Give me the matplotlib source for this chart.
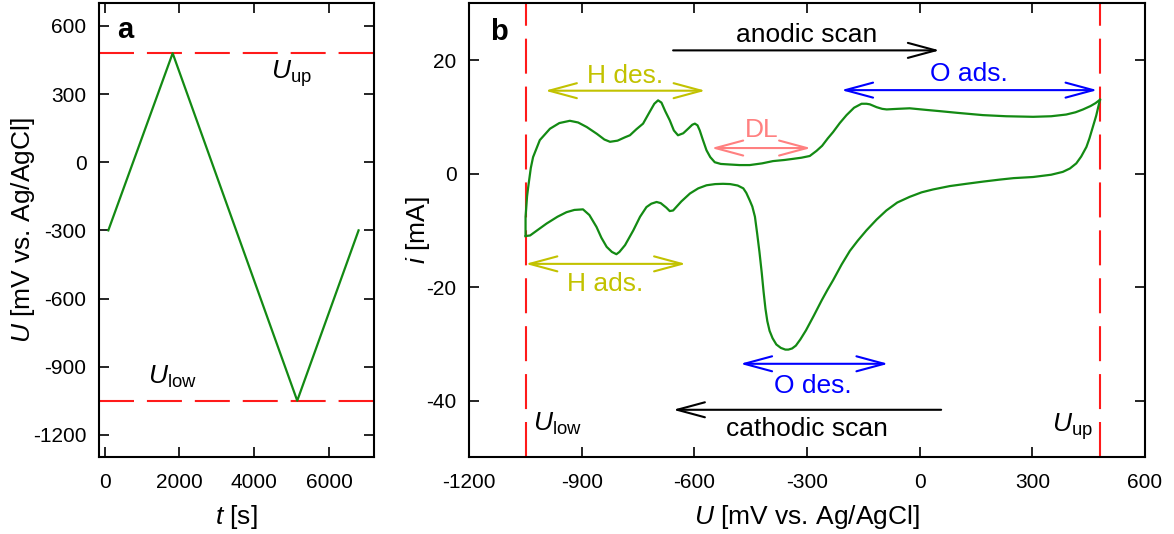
import matplotlib
matplotlib.use("Agg")
import matplotlib.pyplot as plt

plt.rcParams['font.family'] = ['Liberation Sans', 'DejaVu Sans']
plt.rcParams['mathtext.fontset'] = 'custom'
plt.rcParams['mathtext.rm'] = 'Liberation Sans'
plt.rcParams['mathtext.it'] = 'Liberation Sans:italic'
plt.rcParams['mathtext.bf'] = 'Liberation Sans:bold'
plt.rcParams['axes.unicode_minus'] = False

# potential program (panel a)
t_prog = [100, 1820, 5150, 6790]
u_prog = [-300, 480, -1050, -300]
U_UP = 480
U_LOW = -1050

# cyclic voltammogram (panel b), anodic sweep then cathodic sweep
u_anodic = [-1050, -1050, -1046, -1043, -1036, -1030, -1012, -985, -960, -932,
            -910, -887, -860, -840, -825, -805, -785, -772, -755, -737,
            -720, -707, -697, -688, -678, -666, -655, -644, -630, -617,
            -606, -599, -592, -586, -578, -568, -558, -546, -530, -506,
            -480, -453, -420, -391, -360, -337, -315, -293, -275, -260,
            -245, -231, -213, -195, -175, -155, -142, -133, -115, -100,
            -88, -60, -27, 20, 53, 100, 168, 230, 302, 350,
            390, 415, 435, 455, 468, 480]
i_anodic = [-11.0, -7.6, -4.0, -2.4, 1.0, 2.9, 5.9, 7.9, 8.9, 9.3,
            9.0, 8.2, 7.0, 6.0, 5.6, 5.8, 6.4, 6.75, 7.8, 8.8,
            10.8, 12.3, 12.9, 12.5, 11.0, 9.4, 7.6, 6.75, 7.1, 7.9,
            8.6, 8.8, 8.5, 7.6, 6.0, 4.1, 2.9, 2.0, 1.7, 1.6,
            1.5, 1.5, 1.8, 2.2, 2.4, 2.6, 2.8, 3.1, 4.0, 4.9,
            6.2, 7.3, 8.9, 10.3, 11.6, 12.3, 12.3, 12.2, 11.7, 11.4,
            11.3, 11.4, 11.5, 11.2, 11.0, 10.7, 10.3, 10.1, 10.0, 10.1,
            10.4, 10.8, 11.3, 11.9, 12.4, 13.0]

u_cathodic = [480, 470, 461, 452, 444, 430, 417, 400, 381, 350,
              302, 250, 213, 170, 124, 80, 35, 5, -27, -60,
              -89, -115, -142, -165, -186, -208, -231, -246, -261, -282,
              -303, -318, -330, -340, -350, -358, -370, -382, -392, -400,
              -406, -411, -416, -421, -427, -433, -439, -446, -453, -462,
              -470, -485, -505, -524, -545, -568, -590, -612, -635, -657,
              -666, -675, -690, -701, -715, -728, -745, -763, -785, -800,
              -808, -820, -834, -848, -861, -880, -897, -920, -941, -965,
              -994, -1015, -1038, -1050]
i_cathodic = [13.0, 10.2, 8.2, 6.2, 4.7, 3.0, 1.8, 0.9, 0.3, -0.2,
              -0.6, -0.8, -1.06, -1.4, -1.8, -2.2, -2.8, -3.3, -4.1, -5.1,
              -6.5, -8.1, -10.0, -11.8, -13.6, -16.0, -18.8, -20.5, -22.3, -25.0,
              -27.6, -29.2, -30.3, -30.8, -31.0, -31.0, -30.7, -30.1, -29.0, -27.7,
              -26.0, -23.8, -20.8, -17.4, -13.8, -10.6, -7.6, -5.8, -4.7, -3.4,
              -2.6, -2.1, -1.85, -1.8, -1.85, -2.06, -2.6, -3.5, -4.9, -6.5,
              -6.6, -6.0, -5.2, -5.0, -5.3, -5.9, -7.6, -10.0, -12.6, -13.8,
              -14.2, -13.8, -12.9, -11.3, -9.4, -7.3, -6.3, -6.4, -6.8, -7.6,
              -8.8, -9.8, -10.9, -11.0]

GREEN = '#138a13'
RED = '#ff1a1a'
YELLOW = '#c2c200'
PINK = '#ff8080'
BLUE = '#0000ff'
DASH = (0, (16.8, 6.2))

fig = plt.figure(figsize=(11.74, 5.34), dpi=100)
ax_a = fig.add_axes([0.0843, 0.1433, 0.2342, 0.8506])
ax_b = fig.add_axes([0.3997, 0.1433, 0.5756, 0.8506])

for ax in (ax_a, ax_b):
    for s in ax.spines.values():
        s.set_linewidth(1.5)
    ax.tick_params(direction='in', top=True, right=True, length=7.5,
                   width=1.2, labelsize=15, pad=9)
    ax.tick_params(axis='x', pad=11)

# ---- panel a ----
ax_a.axhline(U_UP, color=RED, lw=1.5, ls=DASH)
ax_a.axhline(U_LOW, color=RED, lw=1.5, ls=DASH)
ax_a.plot(t_prog, u_prog, color=GREEN, lw=1.6)
ax_a.set_xlim(-150, 7200)
ax_a.set_ylim(-1300, 700)
ax_a.set_xticks([0, 2000, 4000, 6000])
ax_a.set_yticks([600, 300, 0, -300, -600, -900, -1200])
ax_a.set_xlabel(r'$t$ [s]', fontsize=19)
ax_a.set_ylabel(r'$U$ [mV vs. Ag/AgCl]', fontsize=19)
ax_a.xaxis.set_label_coords(0.5, -0.100)
ax_a.yaxis.set_label_coords(-0.225, 0.5)
ax_a.text(344, 547, 'a', fontsize=21, fontweight='bold', va='baseline')
ax_a.text(4456, 367, r'$U_{\mathrm{up}}$', fontsize=19, va='baseline')
ax_a.text(1163, -976, r'$U_{\mathrm{low}}$', fontsize=19, va='baseline')

# ---- panel b ----
ax_b.axvline(U_LOW, color=RED, lw=1.5, ls=DASH)
ax_b.axvline(U_UP, color=RED, lw=1.5, ls=DASH)
ax_b.plot(u_anodic, i_anodic, color=GREEN, lw=1.6)
ax_b.plot(u_cathodic, i_cathodic, color=GREEN, lw=1.6)
ax_b.set_xlim(-1200, 600)
ax_b.set_ylim(-50, 30)
ax_b.set_xticks([-1200, -900, -600, -300, 0, 300, 600])
ax_b.set_yticks([20, 0, -20, -40])
ax_b.set_xlabel(r'$U$ [mV vs. Ag/AgCl]', fontsize=19)
ax_b.set_ylabel(r'$i$ [mA]', fontsize=19)
ax_b.xaxis.set_label_coords(0.5, -0.100)
ax_b.yaxis.set_label_coords(-0.055, 0.5)


def arrow(ax, x0, x1, y, color, style):
    ax.annotate('', xy=(x1, y), xytext=(x0, y),
                arrowprops=dict(arrowstyle=style + ',head_length=1.0,head_width=0.27',
                                color=color, lw=1.5, shrinkA=0, shrinkB=0,
                                mutation_scale=20))


arrow(ax_b, -657, 53, 21.7, 'black', '->')
ax_b.text(-302, 23.2, 'anodic scan', fontsize=19, ha='center', va='baseline')
arrow(ax_b, -998, -571, 14.6, YELLOW, '<->')
ax_b.text(-785, 15.9, 'H des.', fontsize=19, color=YELLOW, ha='center', va='baseline')
arrow(ax_b, -555, -290, 4.5, PINK, '<->')
ax_b.text(-421, 6.45, 'DL', fontsize=19, color=PINK, ha='center', va='baseline')
arrow(ax_b, -1050, -623, -15.9, YELLOW, '<->')
ax_b.text(-837, -20.6, 'H ads.', fontsize=19, color=YELLOW, ha='center', va='baseline')
arrow(ax_b, -209, 473, 14.7, BLUE, '<->')
ax_b.text(130, 16.3, 'O ads.', fontsize=19, color=BLUE, ha='center', va='baseline')
arrow(ax_b, -478, -84, -33.5, BLUE, '<->')
ax_b.text(-284, -38.7, 'O des.', fontsize=19, color=BLUE, ha='center', va='baseline')
arrow(ax_b, 57, -657, -41.6, 'black', '->')
ax_b.text(-300, -46.2, 'cathodic scan', fontsize=19, ha='center', va='baseline')
ax_b.text(-1030, -45.3, r'$U_{\mathrm{low}}$', fontsize=19, va='baseline')
ax_b.text(460, -45.4, r'$U_{\mathrm{up}}$', fontsize=19, ha='right', va='baseline')
ax_b.text(-1145, 23.5, 'b', fontsize=21, fontweight='bold', va='baseline')

fig.savefig('out.png', dpi=100)
